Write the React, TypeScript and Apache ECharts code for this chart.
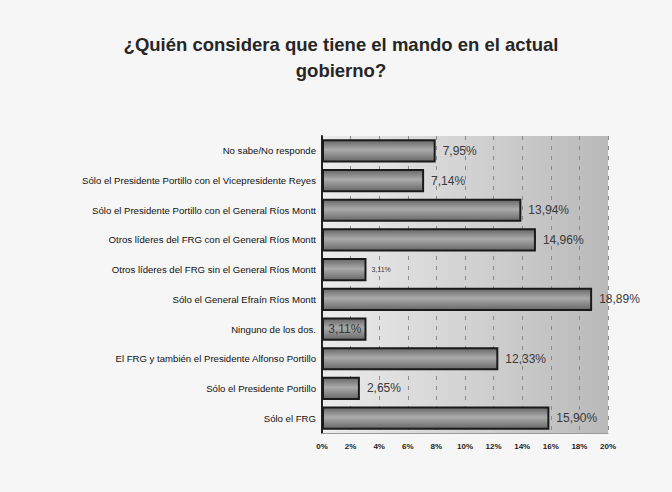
import React, { useEffect, useRef } from "react";
import * as echarts from "echarts";

const categories = [
  "No sabe/No responde",
  "Sólo el Presidente Portillo con el Vicepresidente Reyes",
  "Sólo el Presidente Portillo con el General Ríos Montt",
  "Otros líderes del FRG con el General Ríos Montt",
  "Otros líderes del FRG sin el General Ríos Montt",
  "Sólo el General Efraín Ríos Montt",
  "Ninguno de los dos.",
  "El FRG y también el Presidente Alfonso Portillo",
  "Sólo el Presidente Portillo",
  "Sólo el FRG",
];
const values = [7.95, 7.14, 13.94, 14.96, 3.11, 18.89, 3.11, 12.33, 2.65, 15.9];
const xTicks = [0, 2, 4, 6, 8, 10, 12, 14, 16, 18, 20];

const fmt = (v: number) => v.toFixed(2).replace(".", ",") + "%";

export default function App() {
  const ref = useRef<HTMLDivElement>(null);
  useEffect(() => {
    if (!ref.current) return;
    const chart = echarts.init(ref.current, null, { renderer: "svg" });
    const barFill = new echarts.graphic.LinearGradient(0, 0, 0, 1, [
      { offset: 0, color: "#666666" },
      { offset: 0.45, color: "#ababab" },
      { offset: 1, color: "#686868" },
    ]);
    const data = values.map((v, i) => {
      const item: any = { value: v };
      if (i === 6) {
        item.label = { position: "insideRight", offset: [2, 0] };
      } else if (i === 4) {
        item.label = { fontSize: 7, distance: 5 };
      }
      return item;
    });
    chart.setOption({
      animation: false,
      backgroundColor: "#f6f6f6",
      title: {
        text: "¿Quién considera que tiene el mando en el actual\ngobierno?",
        left: 336,
        top: 26,
        textAlign: "center",
        textStyle: {
          fontFamily: "Liberation Sans, Arial, sans-serif",
          fontSize: 18.5,
          fontWeight: "bold",
          color: "#262626",
          lineHeight: 26,
        },
      },
      grid: {
        left: 322,
        right: 64,
        top: 136,
        bottom: 59,
        show: true,
        borderWidth: 0,
        backgroundColor: new echarts.graphic.LinearGradient(0, 0, 1, 0, [
          { offset: 0, color: "#ececec" },
          { offset: 1, color: "#b9b9b9" },
        ]),
      },
      xAxis: {
        type: "value",
        min: 0,
        max: 20,
        interval: 2,
        axisLine: { show: true, lineStyle: { color: "#999", width: 1 } },
        axisTick: { show: false },
        axisLabel: {
          formatter: (v: number) => (xTicks.includes(v) ? v + "%" : ""),
          fontFamily: "Liberation Sans, Arial, sans-serif",
          fontSize: 8,
          fontWeight: "bold",
          color: "#222",
          margin: 9,
        },
        splitLine: {
          show: true,
          lineStyle: { color: "#8a8a8a", type: [4, 6], width: 1 },
        },
      },
      yAxis: {
        type: "category",
        data: categories,
        inverse: true,
        axisLine: { show: true, lineStyle: { color: "#222", width: 2 } },
        axisTick: { show: false },
        axisLabel: {
          fontFamily: "Liberation Sans, Arial, sans-serif",
          fontSize: 9.6,
          color: "#111",
          margin: 6,
        },
      },
      series: [
        {
          type: "bar",
          data,
          barCategoryGap: "22%",
          itemStyle: {
            color: barFill,
            borderColor: "#1a1a1a",
            borderWidth: 2,
          },
          label: {
            show: true,
            position: "right",
            distance: 7,
            formatter: (p: any) => fmt(p.value),
            fontFamily: "Liberation Sans, Arial, sans-serif",
            fontSize: 12,
            color: "#3a3a3a",
          },
        },
      ],
    });
    return () => chart.dispose();
  }, []);
  return (
    <div
      ref={ref}
      style={{ position: "fixed", left: 0, top: 0, width: 672, height: 492 }}
    />
  );
}
